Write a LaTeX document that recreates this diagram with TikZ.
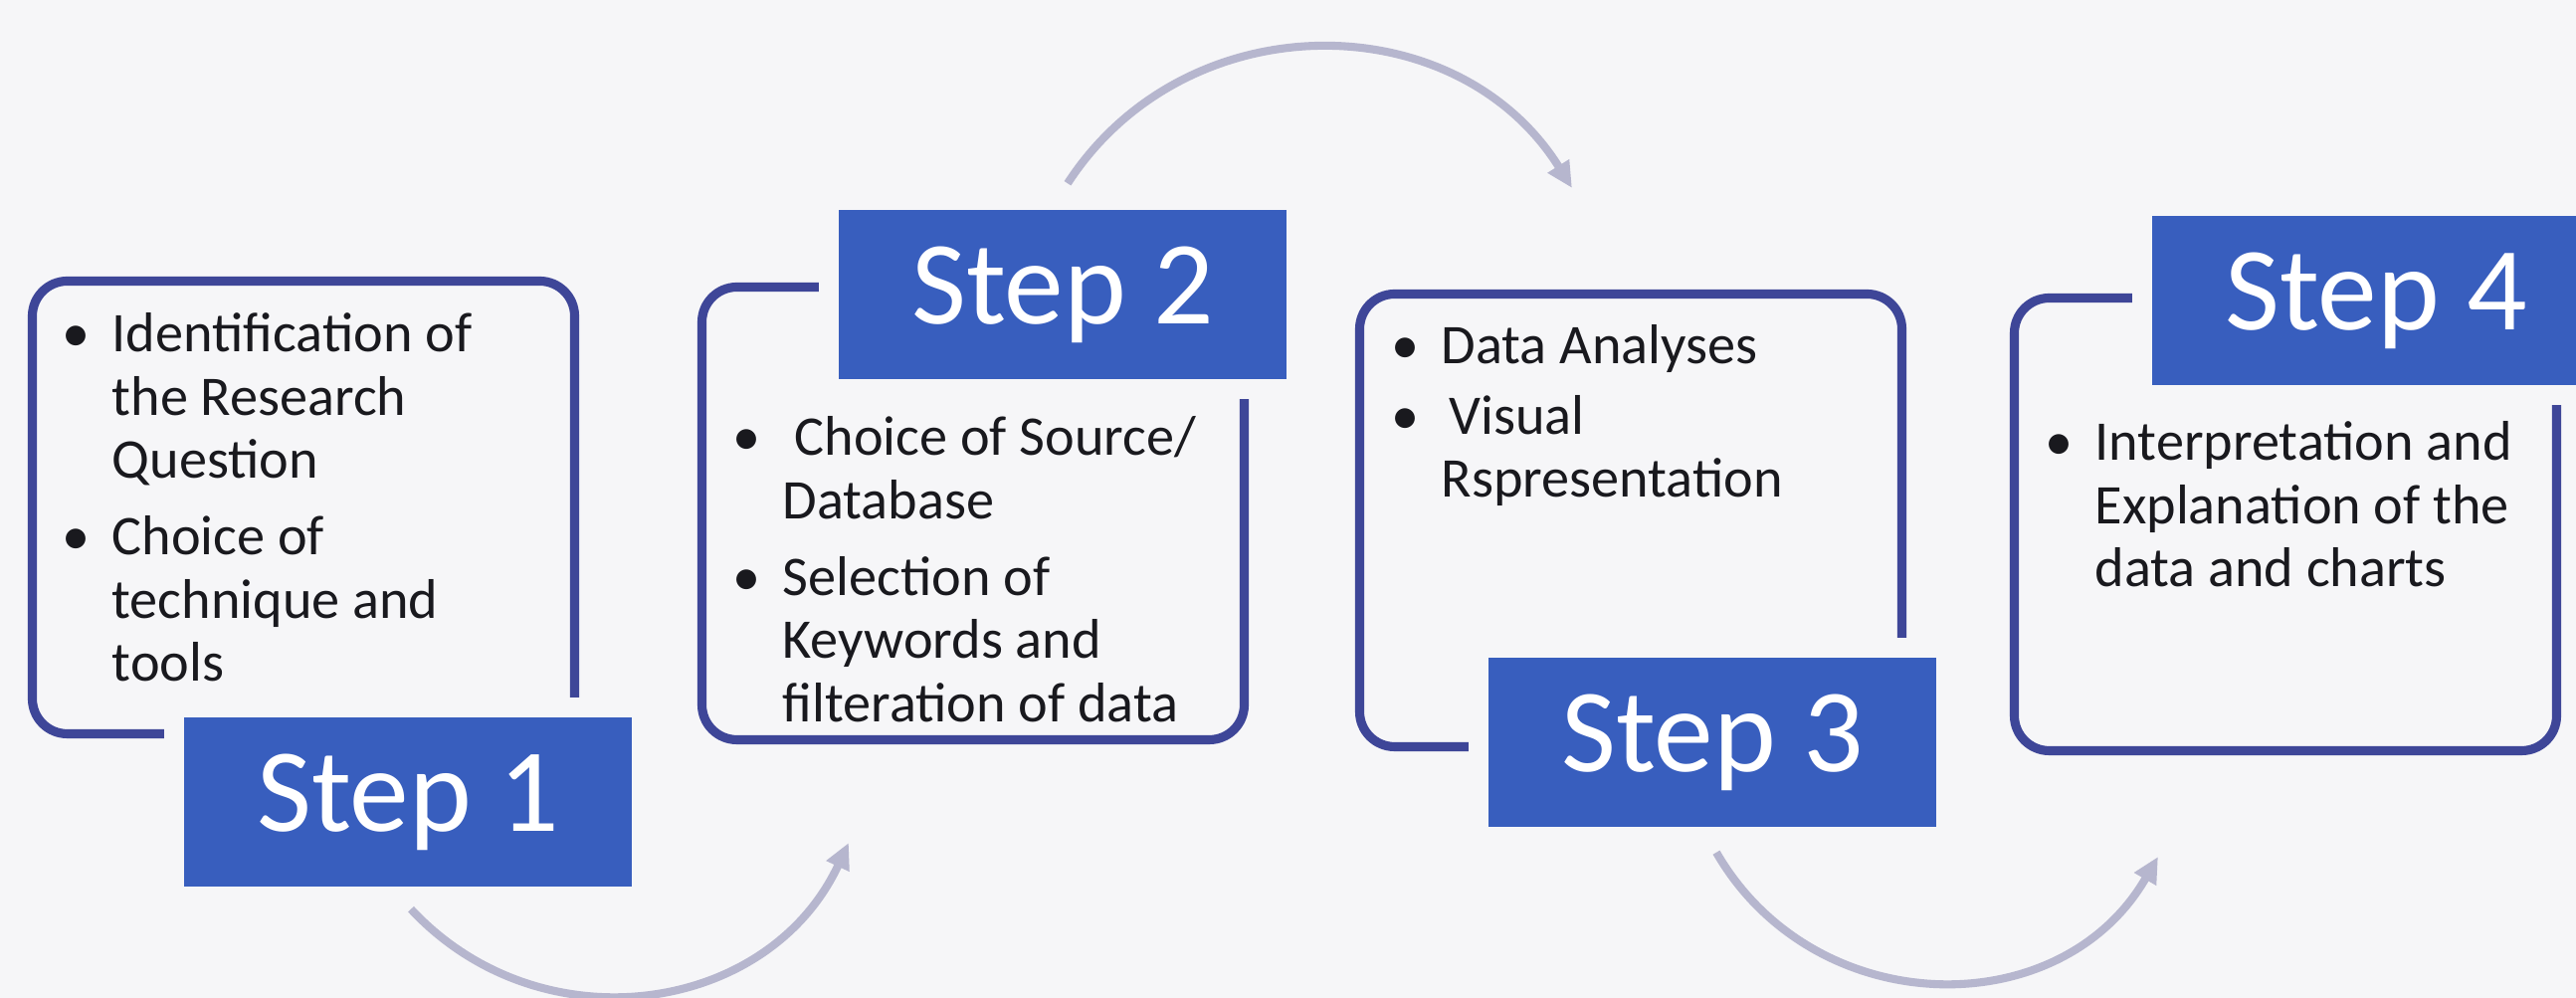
\documentclass[tikz,border=0pt]{standalone}
\usepackage{fontspec}
\setmainfont{Carlito}
\usepackage{tikz}
\usetikzlibrary{calc,positioning,arrows.meta}
\definecolor{framecol}{RGB}{62,70,152}
\definecolor{stepcol}{RGB}{56,94,190}
\definecolor{arrowcol}{RGB}{182,182,206}
\definecolor{bgcol}{RGB}{246,246,248}
\definecolor{textcol}{RGB}{25,25,30}
\tikzstyle{frame}   = [draw=framecol, line width=2.6pt, rounded corners=10pt,
                       minimum width=5.45cm, minimum height=4.55cm]
\tikzstyle{stepbox} = [fill=stepcol, text=white, minimum width=4.5cm, minimum height=1.7cm,
                       font=\fontsize{34}{40}\selectfont, preaction={draw=bgcol, line width=0.4cm}]
\tikzstyle{bullets} = [anchor=base west, inner sep=0pt, text=textcol, font=\fontsize{16}{18}\selectfont]
\tikzstyle{arrow}   = [line width=2.3pt, draw=arrowcol, -{Triangle[length=2.6mm,width=2.4mm]}]
\newcommand{\bl}{\textbullet}

\begin{document}
\begin{tikzpicture}
    \useasboundingbox (0,0) rectangle (25.89,10.03);
    \clip (0,0) rectangle (25.89,10.03);
    \fill[bgcol] (0,0) rectangle (25.89,10.03);

    % frames
    \draw (3.05,4.93) node[frame] (f1) {};
    \draw (9.78,4.87) node[frame] (f2) {};
    \draw (16.39,4.80) node[frame] (f3) {};
    \draw (22.97,4.76) node[frame] (f4) {};

    % step labels
    \draw (4.10,1.97) node[stepbox] (s1) {Step 1};
    \draw (10.68,7.07) node[stepbox] (s2) {Step 2};
    \draw (17.21,2.57) node[stepbox] (s3) {Step 3};
    \draw (23.88,7.01) node[stepbox] (s4) {Step 4};

    % bullet texts
    \draw (0.62,6.49) node[bullets] (t1) {\begin{tabular}[t]{@{}p{0.5cm}@{}l@{}}
        \bl & Identification of\\ & the Research\\ & Question\\[4pt]
        \bl & Choice of\\ & technique and\\ & tools\end{tabular}};
    \draw (7.36,5.45) node[bullets] (t2) {\begin{tabular}[t]{@{}p{0.5cm}@{}l@{}}
        \bl & \hspace{0.12cm}Choice of Source/\\ & Database\\[4pt]
        \bl & Selection of\\ & Keywords and\\ & filteration of data\end{tabular}};
    \draw (13.98,6.37) node[bullets] (t3) {\begin{tabular}[t]{@{}p{0.5cm}@{}l@{}}
        \bl & Data Analyses\\[2pt]
        \bl & \hspace{0.08cm}Visual\\ & Rspresentation\end{tabular}};
    \draw (20.55,5.40) node[bullets] (t4) {\begin{tabular}[t]{@{}p{0.5cm}@{}l@{}}
        \bl & Interpretation and\\ & Explanation of the\\ & data and charts\end{tabular}};

    % curved arrows
    \coordinate (a1) at ($(s1.south)+(0.03,-0.22)$);
    \coordinate (b1) at ($(f2.south west)+(1.52,-0.99)$);
    \coordinate (a2) at ($(s2.north)+(0.05,0.26)$);
    \coordinate (b2) at ($(f3.north west)+(2.18,1.02)$);
    \coordinate (a3) at ($(s3.south)+(0.04,-0.25)$);
    \coordinate (b3) at ($(f4.south west)+(1.49,-1.02)$);
    \draw[arrow] (a1) to[out=-47,in=245,looseness=1.1] (b1);
    \draw[arrow] (a2) to[out=57,in=122,looseness=1.1] (b2);
    \draw[arrow] (a3) to[out=-60,in=240,looseness=1.13] (b3);
\end{tikzpicture}
\end{document}
